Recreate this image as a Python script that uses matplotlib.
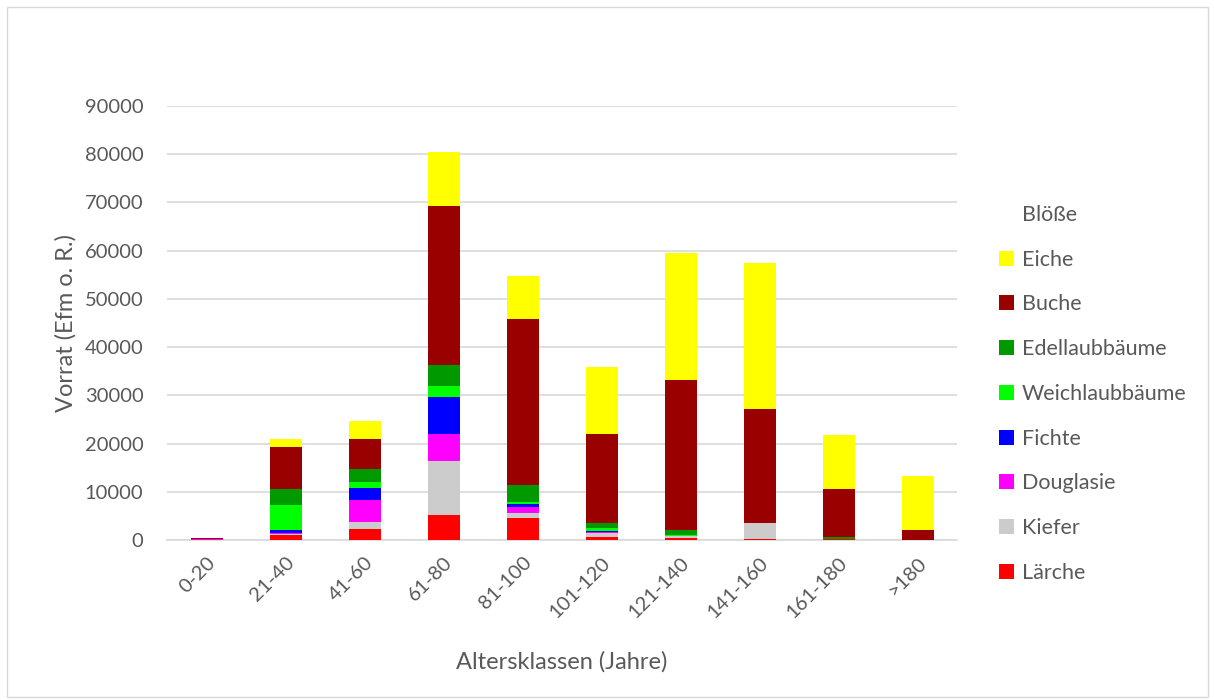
import matplotlib.pyplot as plt
import numpy as np
from matplotlib.patches import Rectangle, Patch

plt.rcParams['font.family'] = ['Lato', 'DejaVu Sans']

classes = ["0-20", "21-40", "41-60", "61-80", "81-100", "101-120",
           "121-140", "141-160", "161-180", ">180"]

# stack order from bottom to top
laerche = [50, 1100, 2200, 5180, 4630, 690, 480, 150, 100, 0]
kiefer = [0, 100, 1530, 11270, 1040, 690, 420, 3370, 0, 0]
douglasie = [100, 300, 4490, 5450, 1240, 280, 0, 0, 0, 0]
fichte = [0, 500, 2630, 7750, 480, 150, 0, 0, 0, 0]
weichlaub = [50, 5250, 1170, 2280, 490, 690, 150, 0, 0, 0]
edellaub = [100, 3300, 2700, 4280, 3520, 1040, 1020, 0, 500, 0]
buche = [100, 8650, 6150, 33110, 34490, 18390, 31110, 23650, 9900, 2140]
eiche = [0, 1700, 3800, 11120, 8910, 14020, 26410, 30270, 11270, 11200]
bloesse = [0, 0, 0, 0, 0, 0, 0, 0, 0, 0]

series = [
    ("Lärche", laerche, "#ff0000"),
    ("Kiefer", kiefer, "#cccccc"),
    ("Douglasie", douglasie, "#ff00ff"),
    ("Fichte", fichte, "#0000ff"),
    ("Weichlaubbäume", weichlaub, "#00ff00"),
    ("Edellaubbäume", edellaub, "#009900"),
    ("Buche", buche, "#990000"),
    ("Eiche", eiche, "#ffff00"),
    ("Blöße", bloesse, "#ffffff"),
]

text_col = "#595959"
grid_col = "#d9d9d9"

fig = plt.figure(figsize=(12.14, 7), dpi=100)
ax = fig.add_axes([0.1376, 0.2286, 0.6508, 0.62])

x = np.arange(len(classes))
bottom = np.zeros(len(classes))
handles = []
for name, vals, col in series:
    ax.bar(x, vals, width=0.405, bottom=bottom, color=col, linewidth=0, zorder=3)
    bottom += np.array(vals)
    handles.append(Patch(facecolor=col, edgecolor="none", label=name))

ax.set_xlim(-0.5, len(classes) - 0.5)
ax.set_ylim(0, 90000)
ax.set_yticks(np.arange(0, 90001, 10000))
ax.yaxis.grid(True, color=grid_col, linewidth=1.2, zorder=0)
ax.set_axisbelow(True)
for s in ["top", "right", "left"]:
    ax.spines[s].set_visible(False)
ax.spines["bottom"].set_color(grid_col)
ax.spines["bottom"].set_linewidth(1.2)
ax.tick_params(axis="both", length=0, colors=text_col, labelsize=14.5)
ax.tick_params(axis="y", pad=17)
ax.set_xticks(x)
ax.set_xticklabels(classes, rotation=45, ha="right", rotation_mode="anchor")
ax.tick_params(axis="x", pad=10)

ax.set_ylabel("Vorrat (Efm o. R.)", fontsize=17, color=text_col, labelpad=6)
ax.set_xlabel("Altersklassen (Jahre)", fontsize=17, color=text_col, labelpad=22)

fig.legend(handles=handles[::-1], loc="upper left", bbox_to_anchor=(0.807, 0.735),
           frameon=False, fontsize=15.5, labelcolor=text_col, labelspacing=1.15,
           handlelength=0.7, handleheight=0.7, handletextpad=0.35)

fig.patches.append(Rectangle((0.006, 0.005), 0.989, 0.985, transform=fig.transFigure,
                             fill=False, edgecolor=grid_col, linewidth=1))

fig.savefig("out.png", dpi=100)
